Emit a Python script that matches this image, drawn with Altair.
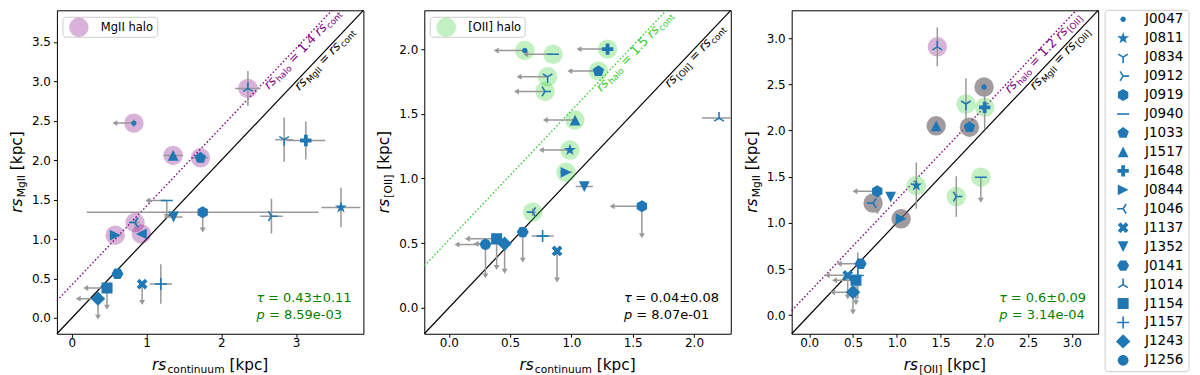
import math
import altair as alt
import pandas as pd

# ---------------- data ----------------
LEGEND_NAMES = ["J0047", "J0811", "J0834", "J0912", "J0919", "J0940", "J1033", "J1517", "J1648", "J0844",
                "J1046", "J1137", "J1352", "J0141", "J1014", "J1154", "J1157", "J1243", "J1256"]
LEGEND_MARKERS = [".", "*", "1", "4", "h", "_", "p", "^", "P", ">", "3", "X", "v", "H", "2", "s", "+", "D", "o"]

# Panel 1: rs_continuum (x) vs rs_MgII (y)
P1_NAME = ["J0047", "J0811", "J0834", "J0912", "J0919", "J0940", "J1033", "J1517", "J1648", "J0844",
           "J1046", "J1137", "J1352", "J0141", "J1014", "J1154", "J1157", "J1243", "J1256"]
P1_X = [0.83, 3.60, 2.84, 2.67, 1.75, 1.27, 1.72, 1.355, 3.13, 0.58, 0.845, 0.94, 1.36, 0.61, 2.355, 0.47, 1.19, 0.35, 0.93]
P1_Y = [2.47, 1.40, 2.26, 1.29, 1.34, 1.49, 2.03, 2.06, 2.25, 1.05, 1.21, 0.43, 1.28, 0.56, 2.91, 0.38, 0.43, 0.245, 1.065]
P1_XERR = [0, 0.26, 0.12, 0.15, 1.55, 0, 0.10, 0.13, 0.26, 0.08, 0.06, 0, 0.12, 0, 0.17, 0, 0.15, 0, 0.05]
P1_YERR = [0.05, 0.25, 0.28, 0.22, 0, 0, 0.04, 0.05, 0.24, 0.03, 0.05, 0, 0.03, 0, 0.22, 0, 0.25, 0, 0]
P1_XLIM = [0.25, 0, 0, 0, 0, 0.25, 0, 0, 0, 0, 0, 0, 0, 0, 0, 0.28, 0, 0.26, 0]
P1_YLIM = [0, 0, 0, 0, 0.22, 0.20, 0, 0, 0, 0, 0, 0.23, 0, 0, 0, 0.24, 0, 0.23, 0]
P1_HALO = ["mg", "", "", "", "", "", "mg", "mg", "", "mg", "mg", "", "", "", "mg", "", "", "", "mg"]
P1_MARKER_OVERRIDE = {"J1256": "<"}

# Panel 2: rs_continuum (x) vs rs_[OII] (y)
P2_NAME = ["J0047", "J0940", "J1648", "J1033", "J0834", "J0912", "J1517", "J0811", "J0844", "J1352",
           "J0919", "J1014", "J1046", "J0141", "J1157", "J1137", "J1256", "J1154", "J1243"]
P2_X = [0.62, 0.85, 1.295, 1.22, 0.806, 0.785, 1.03, 0.988, 0.956, 1.105, 1.575, 2.204, 0.684, 0.603, 0.765, 0.883, 0.299, 0.39, 0.455]
P2_Y = [1.99, 1.96, 2.00, 1.83, 1.786, 1.673, 1.452, 1.22, 1.048, 0.938, 0.786, 1.467, 0.74, 0.586, 0.555, 0.44, 0.49, 0.534, 0.496]
P2_XERR = [0, 0, 0, 0, 0, 0, 0, 0, 0.05, 0.07, 0, 0.14, 0.03, 0, 0.09, 0, 0, 0, 0]
P2_YERR = [0, 0, 0, 0, 0, 0, 0, 0, 0, 0, 0, 0, 0.03, 0, 0, 0, 0, 0, 0]
P2_XLIM = [0.23, 0.22, 0.23, 0.23, 0.23, 0.23, 0.24, 0.23, 0, 0, 0.24, 0, 0, 0, 0, 0, 0.23, 0.235, 0.23]
P2_YLIM = [0, 0, 0, 0, 0, 0, 0, 0, 0, 0, 0.226, 0, 0, 0.214, 0, 0.222, 0.24, 0.218, 0.21]
P2_HALO = ["o2", "o2", "o2", "o2", "o2", "o2", "o2", "o2", "o2", "", "", "", "o2", "", "", "", "", "", ""]

# Panel 3: rs_[OII] (x) vs rs_MgII (y)
P3_NAME = ["J1014", "J0047", "J0834", "J1648", "J1517", "J1033", "J0940", "J0811", "J0912", "J0919",
           "J1352", "J1046", "J0844", "J0141", "J1157", "J1137", "J1154", "J1243"]
P3_X = [1.463, 1.997, 1.79, 2.004, 1.45, 1.83, 1.96, 1.223, 1.68, 0.777, 0.93, 0.73, 1.05, 0.587, 0.555, 0.44, 0.534, 0.50]
P3_Y = [2.905, 2.47, 2.286, 2.25, 2.05, 2.035, 1.494, 1.404, 1.285, 1.343, 1.278, 1.214, 1.044, 0.558, 0.43, 0.432, 0.38, 0.25]
P3_XERR = [0] * 18
P3_YERR = [0.21, 0.04, 0.28, 0.24, 0.04, 0.04, 0, 0.25, 0.22, 0, 0, 0.04, 0, 0, 0.25, 0, 0, 0]
P3_XLIM = [0, 0, 0, 0, 0, 0, 0, 0, 0, 0.25, 0, 0, 0, 0.24, 0, 0.23, 0.24, 0.23]
P3_YLIM = [0, 0, 0, 0, 0, 0, 0.245, 0, 0, 0.22, 0, 0, 0, 0, 0, 0.23, 0.24, 0.21]
P3_HALO = ["mg", "both", "o2", "o2", "both", "both", "o2", "o2", "o2", "", "", "both", "both", "", "", "", "", ""]

STATS = [("0.43±0.11", "8.59e-03"), ("0.04±0.08", "8.07e-01"), ("0.6±0.09", "3.14e-04")]

# ---------------- style ----------------
FONT = "DejaVu Sans"
BLUE = "#1f77b4"
ERR = "#999999"
HALO_STYLE = {"mg": ("#800080", 0.3), "o2": ("#32cd32", 0.3), "both": ("#6e646c", 0.65)}
PW, PH = 307, 324
ONE = pd.DataFrame({"k": [0]})

CW = {" ": 651, ".": 651, "-": 739, "=": 1716, "[": 799, "]": 799, "±": 1716, "τ": 1140,
      "I": 604, "M": 1767, "O": 1612, "J": 604,
      "a": 1255, "c": 1126, "e": 1260, "g": 1300, "h": 1298, "i": 569, "k": 1186, "l": 569,
      "m": 1995, "n": 1298, "o": 1253, "p": 1300, "r": 842, "s": 1067, "t": 803, "u": 1298}


def tw(s, size):
    return sum(CW.get(ch, 1303 if ch.isdigit() else 1200) for ch in s) / 2048.0 * size


def fp(v):
    return f"{v:.3f}"


def poly(pts):
    return "M" + " L".join(f"{fp(x)},{fp(y)}" for x, y in pts) + " Z"


def regular(n, r, start):
    out = []
    for k in range(n):
        a = math.radians(start + 360.0 * k / n)
        out.append((r * math.cos(a), -r * math.sin(a)))
    return out


def circle(r):
    return f"M{r},0 A{r},{r} 0 1,1 {-r},0 A{r},{r} 0 1,1 {r},0 Z"


def star(R):
    pts = []
    for k in range(10):
        r = R if k % 2 == 0 else R * 0.382
        a = math.radians(90 + 36 * k)
        pts.append((r * math.cos(a), -r * math.sin(a)))
    return poly(pts)


T3 = 1 / 3
PLUS_PTS = [(-T3, -1), (T3, -1), (T3, -T3), (1, -T3), (1, T3), (T3, T3), (T3, 1), (-T3, 1),
            (-T3, T3), (-1, T3), (-1, -T3), (-T3, -T3)]


def rot(pts, deg, s=1.0):
    c, sn = math.cos(math.radians(deg)), math.sin(math.radians(deg))
    return [(s * (x * c - y * sn), s * (x * sn + y * c)) for x, y in pts]


PATHS = {
    ".": circle(0.45),
    "*": star(1.05),
    "1": "M0,0 L0,1 M0,0 L0.8,-0.5 M0,0 L-0.8,-0.5",
    "2": "M0,0 L0,-1 M0,0 L0.8,0.5 M0,0 L-0.8,0.5",
    "3": "M0,0 L-1,0 M0,0 L0.5,-0.8 M0,0 L0.5,0.8",
    "4": "M0,0 L1,0 M0,0 L-0.5,-0.8 M0,0 L-0.5,0.8",
    "h": poly(regular(6, 1.0, 90)),
    "_": "M-1,0 L1,0",
    "p": poly(regular(5, 1.0, 90)),
    "^": "M0,-0.9 L0.9,0.9 L-0.9,0.9 Z",
    "P": poly(rot(PLUS_PTS, 0, 0.95)),
    ">": "M0.9,0 L-0.9,-0.9 L-0.9,0.9 Z",
    "<": "M-0.9,0 L0.9,-0.9 L0.9,0.9 Z",
    "X": poly(rot(PLUS_PTS, 45, 0.95)),
    "v": "M0,0.9 L0.9,-0.9 L-0.9,-0.9 Z",
    "H": poly(regular(6, 1.0, 0)),
    "s": "M-0.92,-0.92 L0.92,-0.92 L0.92,0.92 L-0.92,0.92 Z",
    "+": "M-1,0 L1,0 M0,-1 L0,1",
    "D": "M0,-1.2 L1.2,0 L0,1.2 L-1.2,0 Z",
    "o": circle(0.9),
}
OPEN = {"1", "2", "3", "4", "_", "+"}
SHAPE_SCALE = alt.Scale(domain=list(PATHS.keys()), range=list(PATHS.values()))
HEAD_DOWN = "M0,0.8 L-0.85,-0.6 L0.85,-0.6 Z"
HEAD_LEFT = "M-0.8,0 L0.6,-0.85 L0.6,0.85 Z"


def rich(pieces, ex, ey, data=None, angle=0, color="black", dy=0.0, center=False):
    """pieces: (text, font size, italic, baseline shift, extra gap after)"""
    data = ONE if data is None else data
    total = sum(tw(p[0], p[1]) + p[4] for p in pieces)
    cur = -total / 2 if center else 0.0
    out = []
    for t, s, it, sh, gap in pieces:
        lead = len(t) - len(t.lstrip(" "))
        props = dict(text=t.strip(" "), font=FONT, fontSize=s, color=color, align="left",
                     baseline="alphabetic", dx=cur + tw(" " * lead, s), dy=dy + sh)
        if it:
            props["fontStyle"] = "italic"
        if angle:
            props["angle"] = angle
        out.append(alt.Chart(data).mark_text(**props).encode(x=ex, y=ey))
        cur += tw(t, s) + gap
    return out


def title_pieces(sub, size=15.3):
    return [("rs", size, True, 0, 1.2), (sub, size * 0.7, False, size * 0.2, 0), (" [kpc]", size, False, 0, 0)]


def line_pieces(sub1, mid, sub2, size=12.5):
    return [("rs", size, True, 0, 1.0), (sub1, size * 0.7, False, size * 0.2, 0), (" = " + mid, size, False, 0, 0),
            ("rs", size, True, 0, 1.0), (sub2, size * 0.7, False, size * 0.2, 0)]


def panel(names, xs, ys, xe, ye, xl, yl, halos, cfg):
    lo, hi = cfg["dom"]
    sx = alt.Scale(domain=[lo, hi], nice=False, zero=False)
    ax_x = alt.Axis(values=cfg["ticks"], format=cfg["xfmt"], title=None)
    ax_y = alt.Axis(values=cfg["ticks_y"], format=".1f", title=None)

    def EX(f="x"):
        return alt.X(f"{f}:Q", scale=sx, axis=ax_x)

    def EY(f="y"):
        return alt.Y(f"{f}:Q", scale=sx, axis=ax_y)

    mk = dict(zip(LEGEND_NAMES, LEGEND_MARKERS))
    mk.update(cfg.get("override", {}))
    pts = pd.DataFrame({"name": names, "x": xs, "y": ys, "halo": halos})
    pts["marker"] = [mk[n] for n in names]
    segs, hl, hd = [], [], []
    for x, y, a, b, c, d in zip(xs, ys, xe, ye, xl, yl):
        if a > 0:
            segs.append((x - a, y, x + a, y))
        if b > 0:
            segs.append((x, y - b, x, y + b))
        if c > 0:
            segs.append((x - c, y, x, y))
            hl.append((x - c, y))
        if d > 0:
            segs.append((x, y - d, x, y))
            hd.append((x, y - d))
    segs = pd.DataFrame(segs, columns=["x", "y", "x2", "y2"])

    layers = []
    c = cfg["c"]
    solid = pd.DataFrame({"x": [lo], "y": [lo], "x2": [hi], "y2": [hi]})
    dotted = pd.DataFrame({"x": [lo], "y": [lo + c], "x2": [hi - c], "y2": [hi]})
    layers.append(alt.Chart(solid).mark_rule(color="black", strokeWidth=1.2).encode(
        x=EX(), y=EY(), x2=alt.X2("x2"), y2=alt.Y2("y2")))
    layers.append(alt.Chart(dotted).mark_rule(color=cfg["ccol"], strokeWidth=1.4, strokeDash=[1.5, 2.2]).encode(
        x=EX(), y=EY(), x2=alt.X2("x2"), y2=alt.Y2("y2")))

    for key in ["mg", "o2", "both"]:
        sub = pts[pts["halo"] == key]
        if len(sub):
            col, op = HALO_STYLE[key]
            layers.append(alt.Chart(sub).mark_point(filled=True, shape="circle", size=380, color=col,
                                                    opacity=op, clip=True).encode(x=EX(), y=EY()))
    layers.append(alt.Chart(segs).mark_rule(color=ERR, strokeWidth=1.5, clip=True).encode(
        x=EX(), y=EY(), x2=alt.X2("x2"), y2=alt.Y2("y2")))
    if hl:
        layers.append(alt.Chart(pd.DataFrame(hl, columns=["x", "y"])).mark_point(
            filled=True, shape=HEAD_LEFT, size=49, color=ERR, opacity=1, clip=True).encode(x=EX(), y=EY()))
    if hd:
        layers.append(alt.Chart(pd.DataFrame(hd, columns=["x", "y"])).mark_point(
            filled=True, shape=HEAD_DOWN, size=49, color=ERR, opacity=1, clip=True).encode(x=EX(), y=EY()))
    filled = pts[~pts["marker"].isin(OPEN)]
    opened = pts[pts["marker"].isin(OPEN)]
    layers.append(alt.Chart(filled).mark_point(filled=True, color=BLUE, opacity=1, size=144, clip=True).encode(
        x=EX(), y=EY(), shape=alt.Shape("marker:N", scale=SHAPE_SCALE, legend=None)))
    layers.append(alt.Chart(opened).mark_point(filled=False, color=BLUE, opacity=1, size=144, strokeWidth=1.6,
                                               clip=True).encode(
        x=EX(), y=EY(), shape=alt.Shape("marker:N", scale=SHAPE_SCALE, legend=None)))

    ang = 360 - math.degrees(math.atan2(PH, PW))
    a1, a2 = cfg["anchors"]
    d1 = pd.DataFrame({"x": [a1], "y": [a1 + c]})
    d2 = pd.DataFrame({"x": [a2], "y": [a2]})
    layers += rich(line_pieces("halo", cfg["factor"] + " ", cfg["ref"]), EX(), EY(), data=d1, angle=ang,
                   color=cfg["ccol"], dy=9)
    layers += rich(line_pieces(cfg["ylab"], "", cfg["ref"]), EX(), EY(), data=d2, angle=ang, color="black", dy=9)

    tau, pv = cfg["stats"]
    sc = cfg["scol"]
    layers += rich([("τ", 13, True, 0, 0), (" = " + tau, 13, False, 0, 0)], alt.value(cfg["sx"]), alt.value(292),
                   color=sc)
    layers += rich([("p", 13, True, 0, 0), (" = " + pv, 13, False, 0, 0)], alt.value(cfg["sx"]), alt.value(309),
                   color=sc)

    layers += rich(title_pieces(cfg["xlab"]), alt.value(PW / 2), alt.value(360), center=True)
    layers += rich(title_pieces(cfg["ylab"]), alt.value(-35), alt.value(PH / 2), angle=270, center=True)

    if cfg.get("halo_leg"):
        key, label = cfg["halo_leg"]
        col, op = HALO_STYLE[key]
        layers.append(alt.Chart(ONE).mark_rect(fill="white", fillOpacity=0.8, stroke="#cccccc", strokeWidth=1,
                                               cornerRadius=3).encode(
            x=alt.value(6), x2=alt.value(101), y=alt.value(7), y2=alt.value(27)))
        layers.append(alt.Chart(ONE).mark_point(filled=True, shape="circle", size=380, color=col, opacity=op).encode(
            x=alt.value(22), y=alt.value(17)))
        layers.append(alt.Chart(ONE).mark_text(text=label, font=FONT, fontSize=11.5, align="left",
                                               baseline="alphabetic", color="black").encode(
            x=alt.value(44), y=alt.value(21)))

    if cfg.get("legend"):
        leg = pd.DataFrame({"name": LEGEND_NAMES, "marker": LEGEND_MARKERS,
                            "ly": [9 + 18.98 * i for i in range(len(LEGEND_NAMES))]})
        layers.append(alt.Chart(ONE).mark_rect(fill="white", stroke="#cccccc", strokeWidth=1, cornerRadius=3).encode(
            x=alt.value(314), x2=alt.value(398), y=alt.value(0), y2=alt.value(362)))
        lf = leg[~leg["marker"].isin(OPEN)]
        lo_ = leg[leg["marker"].isin(OPEN)]
        layers.append(alt.Chart(lf).mark_point(filled=True, color=BLUE, opacity=1, size=144).encode(
            x=alt.value(332), y=alt.Y("ly:Q", scale=None, axis=None),
            shape=alt.Shape("marker:N", scale=SHAPE_SCALE, legend=None)))
        layers.append(alt.Chart(lo_).mark_point(filled=False, color=BLUE, opacity=1, size=144, strokeWidth=1.6).encode(
            x=alt.value(332), y=alt.Y("ly:Q", scale=None, axis=None),
            shape=alt.Shape("marker:N", scale=SHAPE_SCALE, legend=None)))
        layers.append(alt.Chart(leg).mark_text(font=FONT, fontSize=13.5, align="left", baseline="middle",
                                               color="black").encode(
            x=alt.value(354), y=alt.Y("ly:Q", scale=None, axis=None), text="name:N"))

    return alt.layer(*layers).properties(width=PW, height=PH)


p1 = panel(P1_NAME, P1_X, P1_Y, P1_XERR, P1_YERR, P1_XLIM, P1_YLIM, P1_HALO, dict(
    dom=[-0.2, 3.9], ticks=[0, 1, 2, 3], xfmt="d", ticks_y=[0, 0.5, 1, 1.5, 2, 2.5, 3, 3.5],
    c=0.42, ccol="#800080", factor="1.4", ref="cont", xlab="continuum", ylab="MgII",
    anchors=(2.55, 2.957), stats=STATS[0], scol="green", sx=200, halo_leg=("mg", "MgII halo"),
    override=P1_MARKER_OVERRIDE))
p2 = panel(P2_NAME, P2_X, P2_Y, P2_XERR, P2_YERR, P2_XLIM, P2_YLIM, P2_HALO, dict(
    dom=[-0.2, 2.3], ticks=[0, 0.5, 1, 1.5, 2], xfmt=".1f", ticks_y=[0, 0.5, 1, 1.5, 2],
    c=0.525, ccol="#32cd32", factor="1.5", ref="cont", xlab="continuum", ylab="[OII]",
    anchors=(1.19, 1.747), stats=STATS[1], scol="black", sx=200, halo_leg=("o2", "[OII] halo")))
p3 = panel(P3_NAME, P3_X, P3_Y, P3_XERR, P3_YERR, P3_XLIM, P3_YLIM, P3_HALO, dict(
    dom=[-0.2, 3.3], ticks=[0, 0.5, 1, 1.5, 2, 2.5, 3], xfmt=".1f", ticks_y=[0, 0.5, 1, 1.5, 2, 2.5, 3],
    c=0.25, ccol="#800080", factor="1.2", ref="[OII]", xlab="[OII]", ylab="MgII",
    anchors=(2.215, 2.50), stats=STATS[2], scol="green", sx=208, legend=True))

chart = alt.hconcat(p1, p2, p3, spacing=61, bounds="flush").properties(
    padding={"left": 1, "top": 0, "right": 2, "bottom": 0}
).configure_view(stroke="black", strokeWidth=1).configure_axis(
    grid=False, domain=False, tickColor="black", tickSize=3.5, tickWidth=1,
    labelFont=FONT, labelFontSize=12, labelColor="black"
).configure_axisX(labelPadding=0).configure_axisY(labelPadding=3)

chart.save("out.html", embed_options={"renderer": "svg", "actions": False})
